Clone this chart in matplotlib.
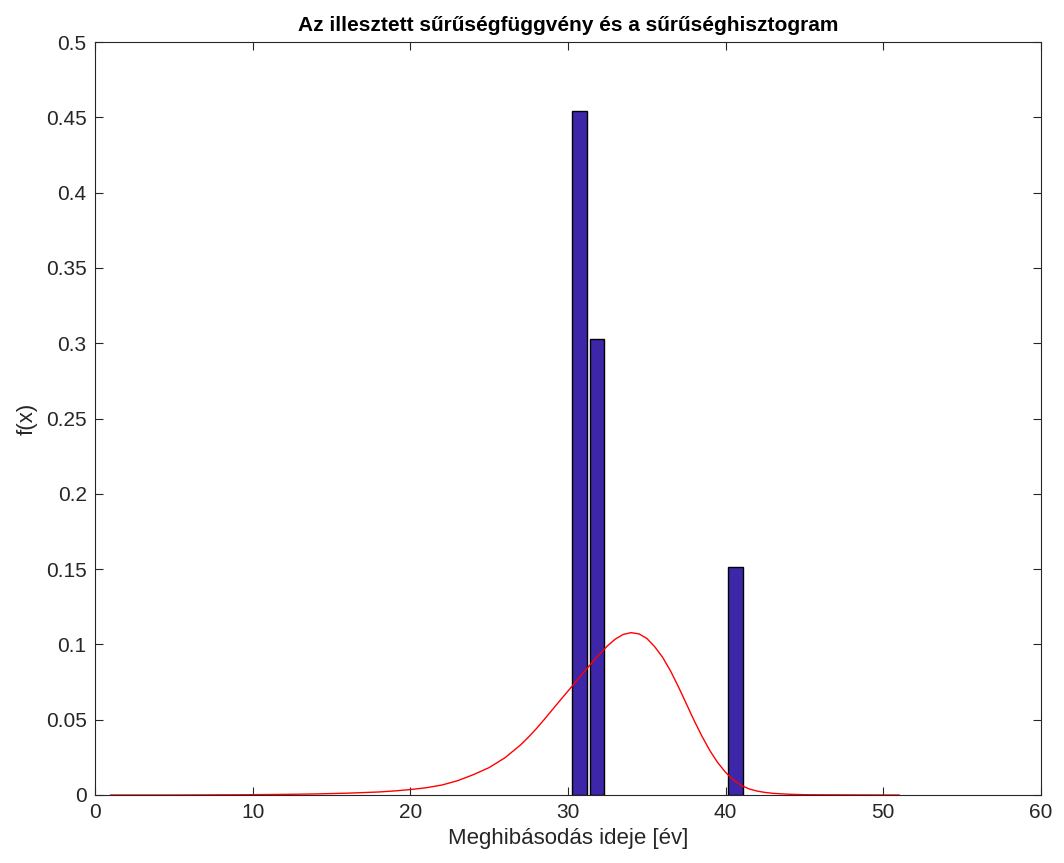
import matplotlib.pyplot as plt

# histogram bins (density) and fitted pdf
bin_centers = [30.73, 31.83, 40.63]
bin_density = [0.4545, 0.3030, 0.1515]
bar_width = 0.9

pdf_x = [1, 5, 8, 10, 12, 14, 16, 18, 19, 20, 21, 22, 23, 24, 25, 26, 27, 27.5,
         28, 28.5, 29, 29.5, 30, 30.5, 31, 31.5, 32, 32.5, 33, 33.5, 34, 34.5,
         35, 35.5, 36, 36.5, 37, 37.5, 38, 38.5, 39, 39.5, 40, 40.5, 41, 41.5,
         42, 42.5, 43, 44, 45, 47, 51]
pdf_y = [0.0, 0.0, 0.0001, 0.0002, 0.0004, 0.0007, 0.0012, 0.0020, 0.0027,
         0.0036, 0.0048, 0.0066, 0.0095, 0.0135, 0.0182, 0.0247, 0.0333, 0.0385,
         0.0441, 0.0502, 0.0565, 0.0628, 0.0690, 0.0752, 0.0815, 0.0876, 0.0935,
         0.0990, 0.1035, 0.1066, 0.1078, 0.1070, 0.1040, 0.0985, 0.0915, 0.0825,
         0.0720, 0.0608, 0.0495, 0.0390, 0.0295, 0.0215, 0.0150, 0.0099, 0.0063,
         0.0040, 0.0026, 0.0017, 0.0011, 0.0005, 0.0002, 0.0001, 0.0]

plt.rcParams['font.family'] = ['Liberation Sans', 'DejaVu Sans']
grey = '#262626'

fig = plt.figure(figsize=(10.64, 8.63), dpi=100)
ax = fig.add_axes([0.0893, 0.0788, 0.889, 0.8725])

ax.bar(bin_centers, bin_density, width=bar_width, color='#3e26a8',
       edgecolor='black', linewidth=1.0, zorder=2)
ax.plot(pdf_x, pdf_y, color='red', linewidth=1.0, zorder=3)

ax.set_xlim(0, 60)
ax.set_ylim(0, 0.5)
ax.set_xticks(range(0, 61, 10))
ax.set_yticks([0, 0.05, 0.1, 0.15, 0.2, 0.25, 0.3, 0.35, 0.4, 0.45, 0.5])
ax.set_yticklabels(['0', '0.05', '0.1', '0.15', '0.2', '0.25', '0.3', '0.35',
                    '0.4', '0.45', '0.5'])
ax.tick_params(direction='in', length=6, width=0.8, colors=grey, labelsize=15,
               top=True, right=True, pad=6)
for s in ax.spines.values():
    s.set_color(grey)
    s.set_linewidth(0.8)

ax.set_title('Az illesztett sűrűségfüggvény és a sűrűséghisztogram',
             fontsize=15, fontweight='bold', color='black', pad=8)
ax.set_xlabel('Meghibásodás ideje [év]', fontsize=16, color=grey, labelpad=4)
ax.set_ylabel('f(x)', fontsize=16, color=grey, labelpad=6)

fig.savefig('out.png', dpi=100)
